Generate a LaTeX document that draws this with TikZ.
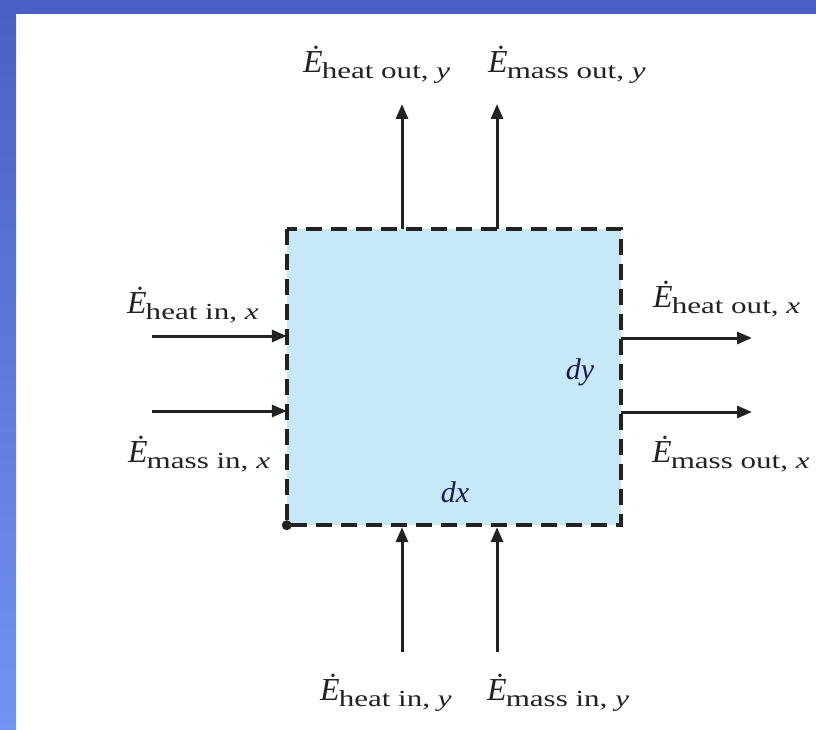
\documentclass[tikz,border=0pt]{standalone}
\usepackage{fontspec}
\setmainfont{Liberation Serif}
\usetikzlibrary{arrows.meta,shadings}
\definecolor{bandblue}{HTML}{4A5FC4}
\definecolor{bandblue2}{HTML}{7294F3}
\definecolor{boxfill}{HTML}{C6E8F7}
\definecolor{ink}{HTML}{222222}
\newcommand{\Eflux}[1]{{\fontsize{32}{32}\selectfont\textit{\.E}}\kern-1pt\raisebox{-6pt}{\scalebox{1.35}[1]{\fontsize{23}{23}\selectfont #1}}}
\tikzset{
  lbl/.style={inner sep=0pt, text=ink, anchor=base west},
  arr/.style={draw=ink, line width=3pt, -{Triangle[length=15pt,width=12pt]}},
  cv/.style={draw=ink, line width=4pt, dash pattern=on 16pt off 9pt, fill=boxfill},
  dlabel/.style={inner sep=0pt, text=ink!80!blue, font=\fontsize{30}{30}\selectfont\itshape}
}
\begin{document}
\begin{tikzpicture}[x=1pt,y=-1pt]
\useasboundingbox (0,0) rectangle (816,730);
\fill[white] (0,0) rectangle (816,730);
\shade[top color=bandblue, bottom color=bandblue2] (0,0) rectangle (16,730);
\fill[bandblue] (0,0) rectangle (816,14);
% control volume
\path[cv] (287,229) rectangle (621,525);
\node[inner sep=0pt, minimum width=334pt, minimum height=296pt] (box) at (454,377) {};
\node[dlabel] (dy) at (580,372) {dy};
\node[dlabel] (dx) at (455,492) {dx};
\fill[ink] (box.south west) circle (5pt);
% arrow end coordinates
\coordinate (t1) at (402,104);
\coordinate (t2) at (497,104);
\coordinate (b1) at (402,652);
\coordinate (b2) at (497,652);
\coordinate (l1) at (152,336);
\coordinate (l2) at (152,411);
\coordinate (r1) at (752,338);
\coordinate (r2) at (752,412);
% arrows
\draw[arr] (box.north -| t1) -- (t1);
\draw[arr] (box.north -| t2) -- (t2);
\draw[arr] (b1) -- ([yshift=-2pt]box.south -| b1);
\draw[arr] (b2) -- ([yshift=-2pt]box.south -| b2);
\draw[arr] (l1) -- (box.west |- l1);
\draw[arr] (l2) -- (box.west |- l2);
\draw[arr] (box.east |- r1) -- (r1);
\draw[arr] (box.east |- r2) -- (r2);
% labels
\node[lbl] (hoy) at (303,73) {\Eflux{heat out, \textit{y}}};
\node[lbl] (moy) at (488,73) {\Eflux{mass out, \textit{y}}};
\node[lbl] (hix) at (127,313) {\Eflux{heat in, \textit{x}}};
\node[lbl] (mix) at (128,462) {\Eflux{mass in, \textit{x}}};
\node[lbl] (hox) at (653,307) {\Eflux{heat out, \textit{x}}};
\node[lbl] (mox) at (652,462) {\Eflux{mass out, \textit{x}}};
\node[lbl] (hiy) at (320,700) {\Eflux{heat in, \textit{y}}};
\node[lbl] (miy) at (487,700) {\Eflux{mass in, \textit{y}}};
\end{tikzpicture}
\end{document}
